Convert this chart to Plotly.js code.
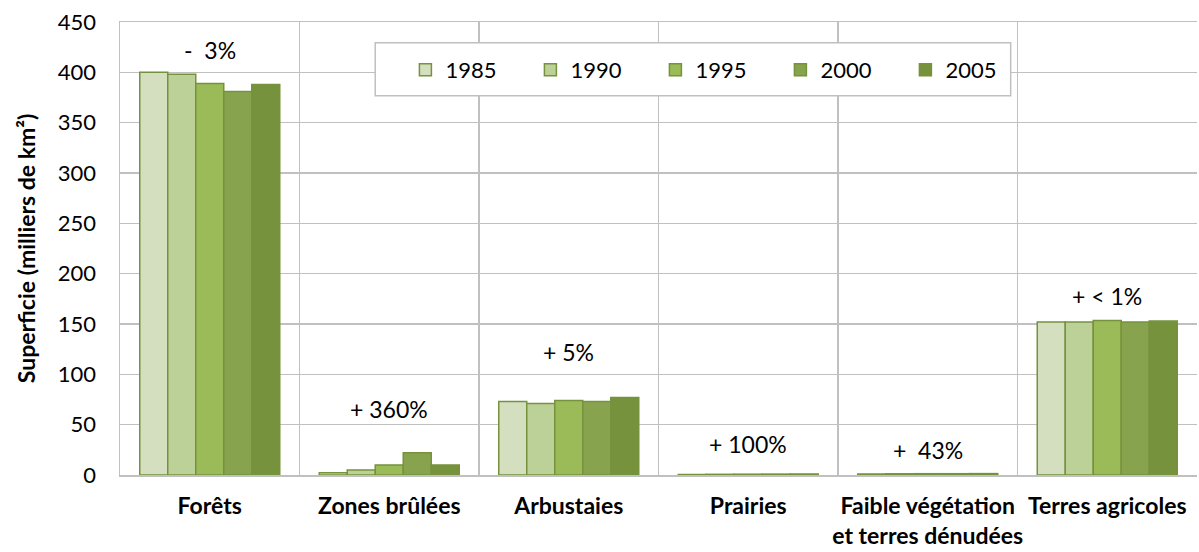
<!DOCTYPE html>
<html>
<head>
<meta charset="utf-8">
<script src="https://cdn.plot.ly/plotly-3.0.1.min.js"></script>
<style>
  html, body { margin: 0; padding: 0; background: #fff; }
  #chart { width: 1199px; height: 552px; }
</style>
</head>
<body>
<div id="chart"></div>
<script>
// catégories d'occupation du sol
const categories = ['Forêts', 'Zones brûlées', 'Arbustaies', 'Prairies',
                    'Faible végétation<br>et terres dénudées', 'Terres agricoles'];
const years = ['1985', '1990', '1995', '2000', '2005'];

// superficie en milliers de km², une liste par année
const v1985 = [400, 2.2, 73, 0.5, 1.0, 152];
const v1990 = [398, 5, 71, 0.7, 1.2, 152];
const v1995 = [389, 10, 74, 0.8, 1.3, 153.5];
const v2000 = [381, 22, 73, 0.9, 1.3, 152];
const v2005 = [388, 10, 77, 1.0, 1.4, 153];
const values = [v1985, v1990, v1995, v2000, v2005];

// variations 1985-2005 affichées au-dessus des groupes
const changeLabels = ['-  3%', '+ 360%', '+ 5%', '+ 100%', '+  43%', '+ < 1%'];
const changeY = [422, 66, 122, 31, 25, 178];

const colors = ['#d3dfbf', '#bcd197', '#9bbb59', '#87a34e', '#76923c'];
const font = 'Lato, "Open Sans", sans-serif';
const grid = '#c0c0c0';

let data = years.map((y, i) => ({
    type: 'bar',
    name: y,
    x: categories,
    y: values[i],
    marker: { color: colors[i], line: { color: '#76923c', width: 1.5 } },
    hoverinfo: 'x+y+name'
}));

let annotations = categories.map((c, i) => ({
    x: c, y: changeY[i], xref: 'x', yref: 'y',
    text: changeLabels[i], showarrow: false,
    font: { family: font, size: 23, color: '#000' }
}));

let layout = {
    width: 1199, height: 552,
    margin: { l: 120, r: 2, t: 22, b: 77 },
    paper_bgcolor: '#fff', plot_bgcolor: '#fff',
    barmode: 'group',
    bargap: 0.22, bargroupgap: 0,
    font: { family: font, color: '#000' },
    xaxis: {
        type: 'category',
        automargin: false,
        tickson: 'boundaries',
        tickangle: 0,
        ticks: '', ticklen: 0,
        ticklabelstandoff: 10,
        showgrid: true, gridcolor: grid, gridwidth: 1.5,
        showline: true, linecolor: grid, linewidth: 1.5, mirror: true,
        tickfont: { family: font, size: 23, weight: 'bold' },
        zeroline: false
    },
    yaxis: {
        range: [0, 450], dtick: 50,
        automargin: false,
        showgrid: true, gridcolor: grid, gridwidth: 1.5,
        showline: true, linecolor: grid, linewidth: 1.5,
        zeroline: false,
        ticks: '',
        ticklabelstandoff: 18,
        tickfont: { family: font, size: 22 },
        title: { text: 'Superficie (milliers de km²)', font: { family: font, size: 23, weight: 'bold' }, standoff: 16 }
    },
    shapes: [
        // cadre de la légende
        { type: 'rect', xref: 'paper', yref: 'paper',
          x0: 0.237, x1: 0.827, y0: 0.837, y1: 0.954,
          fillcolor: '#fff', line: { color: grid, width: 1.5 }, layer: 'above' }
    ],
    showlegend: true,
    legend: {
        orientation: 'h',
        x: 0.265, xanchor: 'left',
        y: 0.894, yanchor: 'middle',
        bgcolor: 'rgba(0,0,0,0)', borderwidth: 0,
        font: { family: font, size: 22 },
        entrywidth: 80,
        traceorder: 'normal'
    },
    annotations: annotations
};

Plotly.newPlot('chart', data, layout, { displayModeBar: false, staticPlot: true });
</script>
</body>
</html>
